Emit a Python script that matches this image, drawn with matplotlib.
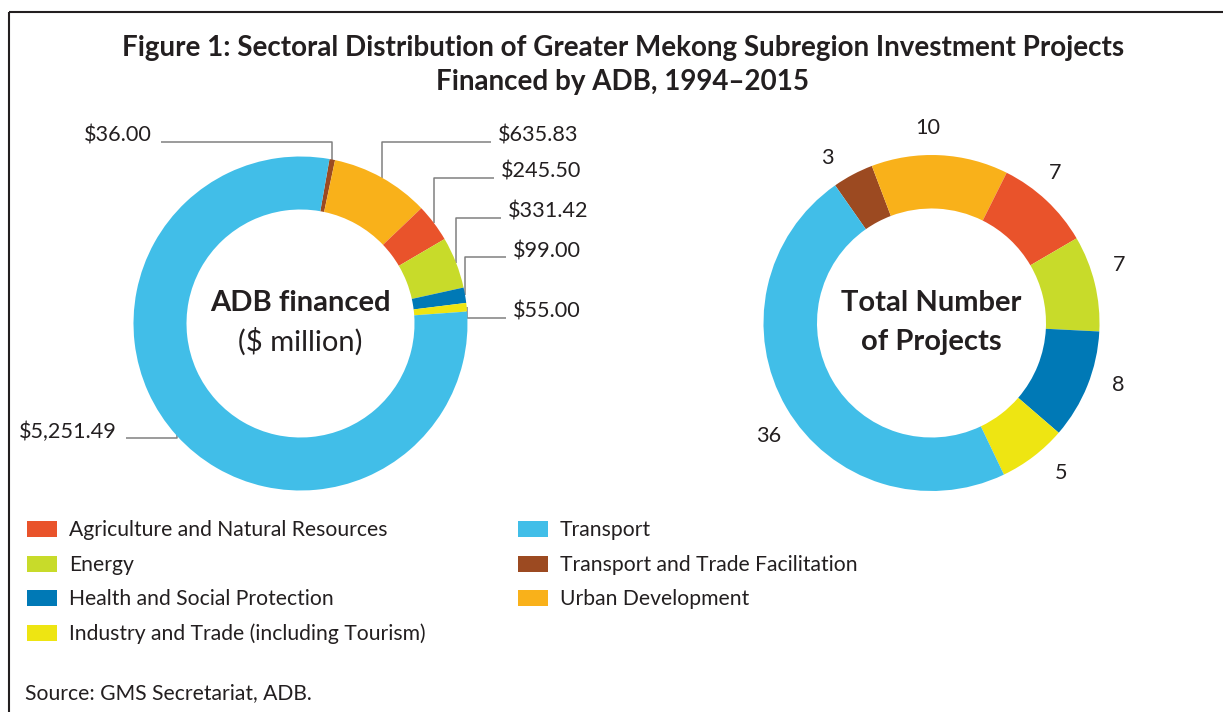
import numpy as np
import matplotlib
matplotlib.use("Agg")
import matplotlib.pyplot as plt
from matplotlib.patches import Rectangle

plt.rcParams['font.family'] = ['Lato', 'DejaVu Sans']

# sectors in legend order
sectors = [
    "Agriculture and Natural Resources",
    "Energy",
    "Health and Social Protection",
    "Industry and Trade (including Tourism)",
    "Transport",
    "Transport and Trade Facilitation",
    "Urban Development",
]
adb_financed = [245.50, 331.42, 99.00, 55.00, 5251.49, 36.00, 635.83]  # $ million
num_projects = [7, 7, 8, 5, 36, 3, 10]
colors = ["#E9532B", "#C8DB2A", "#0079B6", "#EEE512", "#41BEE8", "#9C4A21", "#F9B11A"]

# clockwise order of the wedges, starting near the top
pie_order = [5, 6, 0, 1, 2, 3, 4]

W, H = 1223, 712
TXT = "#231f20"
LINE = "#808080"

fig = plt.figure(figsize=(W / 100, H / 100), dpi=100)
ax = fig.add_axes([0, 0, 1, 1])

vals_l = [adb_financed[i] for i in pie_order]
vals_r = [num_projects[i] for i in pie_order]
cols = [colors[i] for i in pie_order]

# left donut (pixel coordinates, y up)
cl, rl = (300.5, H - 323.5), 167
wl, _ = ax.pie(vals_l, colors=cols, center=cl, radius=rl, startangle=80,
               counterclock=False, wedgeprops=dict(width=53, linewidth=0))

# right donut
cr, rr = (931.5, H - 323), 168
wr, _ = ax.pie(vals_r, colors=cols, center=cr, radius=rr, startangle=125,
               counterclock=False, wedgeprops=dict(width=53.5, linewidth=0))

ax.set_xlim(0, W)
ax.set_ylim(0, H)
ax.axis('off')

# value labels with leader lines on the left donut
lab_x = [152, 498, 501, 508, 513, 513, 117]
lab_y = [142, 142, 178, 218, 257, 318, 438]
for k, w in enumerate(wl):
    mid = np.deg2rad((w.theta1 + w.theta2) / 2)
    axx = cl[0] + rl * np.cos(mid)
    ayy = cl[1] + rl * np.sin(mid)
    ly = H - lab_y[k]
    if lab_x[k] > cl[0]:
        lx0 = lab_x[k] - 7
        ha = 'left'
    else:
        lx0 = lab_x[k] + 9
        ha = 'right'
    ax.plot([lx0, axx, axx], [ly, ly, ayy], color=LINE, lw=1.1,
            solid_capstyle='butt', zorder=0)
    ax.text(lab_x[k], ly, f"${vals_l[k]:,.2f}", ha=ha, va='baseline',
            fontsize=15.6, color=TXT)

# count labels around the right donut
for k, w in enumerate(wr):
    mid = np.deg2rad((w.theta1 + w.theta2) / 2 + 4)
    ax.text(cr[0] + 1.17 * rr * np.cos(mid), cr[1] + 1.17 * rr * np.sin(mid),
            str(vals_r[k]), ha='center', va='center_baseline', fontsize=15.6, color=TXT)

# centre captions
ax.text(cl[0], H - 303, "ADB financed", ha='center', va='center',
        fontsize=21, fontweight='bold', color=TXT)
ax.text(cl[0], H - 342, "($ million)", ha='center', va='center',
        fontsize=21, color=TXT)
ax.text(cr[0], H - 303, "Total Number", ha='center', va='center',
        fontsize=21, fontweight='bold', color=TXT)
ax.text(cr[0], H - 342, "of Projects", ha='center', va='center',
        fontsize=21, fontweight='bold', color=TXT)

# title
ax.text(623, H - 48, "Figure 1: Sectoral Distribution of Greater Mekong Subregion Investment Projects",
        ha='center', va='center', fontsize=20, fontweight='bold', color=TXT)
ax.text(623, H - 82, "Financed by ADB, 1994\u20132015",
        ha='center', va='center', fontsize=20, fontweight='bold', color=TXT)

# legend (two columns, filled column-wise)
row_y = [529, 564, 598, 633]
col_x = [27, 518]
for i, name in enumerate(sectors):
    c, r = divmod(i, 4)
    ax.add_patch(Rectangle((col_x[c], H - row_y[r] - 8), 30, 16,
                           facecolor=colors[i], edgecolor='none'))
    ax.text(col_x[c] + 42, H - row_y[r] - 1, name, ha='left', va='center',
            fontsize=15.2, color=TXT)

ax.text(25, H - 693, "Source: GMS Secretariat, ADB.", ha='left', va='center',
        fontsize=15.2, color=TXT)

# frame: top and left rules
ax.plot([9, W], [H - 12, H - 12], color=TXT, lw=1.5, solid_capstyle='butt')
ax.plot([9, 9], [H - 12, 0], color=TXT, lw=1.5, solid_capstyle='butt')

fig.savefig("out.png", dpi=100)
